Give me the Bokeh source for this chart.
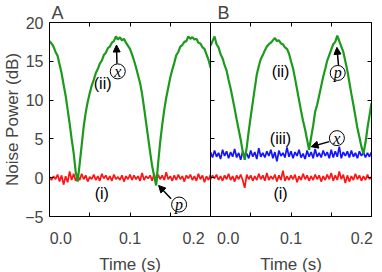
from bokeh.plotting import figure
from bokeh.layouts import row
from bokeh.models import Range1d, FixedTicker, LinearAxis, Title, Arrow, NormalHead
from bokeh.embed import file_html
from bokeh.resources import INLINE
from bokeh.core.properties import value

# ---------------- data ----------------
TIME_S = [
    0.0000, 0.0025, 0.0050, 0.0075, 0.0100, 0.0125, 0.0150, 0.0175, 0.0200, 0.0225,
    0.0250, 0.0275, 0.0300, 0.0325, 0.0350, 0.0375, 0.0400, 0.0425, 0.0450, 0.0475,
    0.0500, 0.0525, 0.0550, 0.0575, 0.0600, 0.0625, 0.0650, 0.0675, 0.0700, 0.0725,
    0.0750, 0.0775, 0.0800, 0.0825, 0.0850, 0.0875, 0.0900, 0.0925, 0.0950, 0.0975,
    0.1000, 0.1025, 0.1050, 0.1075, 0.1100, 0.1125, 0.1150, 0.1175, 0.1200, 0.1225,
    0.1250, 0.1275, 0.1300, 0.1325, 0.1350, 0.1375, 0.1400, 0.1425, 0.1450, 0.1475,
    0.1500, 0.1525, 0.1550, 0.1575, 0.1600, 0.1625, 0.1650, 0.1675, 0.1700, 0.1725,
    0.1750, 0.1775, 0.1800, 0.1825, 0.1850, 0.1875, 0.1900, 0.1925, 0.1950, 0.1975,
    0.2000,
]

# Panel A
A_SIGNAL_II = [
    17.6, 17.3, 16.9, 16.2, 15.7, 14.6, 13.5, 12.0, 10.6, 8.8,
    7.0, 5.0, 3.2, 0.8, -0.5, 1.8, 4.2, 6.6, 8.4, 9.8,
    10.9, 11.9, 12.6, 13.5, 14.0, 14.7, 15.1, 15.8, 16.1, 16.7,
    16.9, 17.4, 17.6, 18.2, 17.8, 18.1, 17.7, 17.9, 17.4, 17.0,
    16.6, 15.9, 15.1, 14.2, 13.2, 12.2, 10.8, 9.0, 7.1, 5.2,
    3.3, 1.5, 0.2, -1.0, 1.9, 4.6, 6.8, 8.7, 10.3, 11.6,
    12.9, 13.9, 14.8, 15.8, 16.2, 16.9, 17.1, 17.5, 17.6, 18.2,
    17.9, 18.1, 17.8, 17.9, 17.4, 17.3, 16.8, 16.6, 15.9, 15.2,
    14.2,
]
A_VACUUM_I = [
    0.1, -0.3, 0.2, -0.2, 0.4, -0.5, 0.3, -0.9, 0.2, -0.6,
    0.8, -0.3, 0.5, -0.4, 0.2, -0.3, 0.5, -0.2, 0.3, -0.5,
    0.1, -0.2, 0.4, -0.3, 0.2, -0.4, 0.5, -0.1, 0.3, -0.3,
    0.2, -0.4, 0.4, -0.2, 0.1, -0.3, 0.3, -0.5, 0.2, -0.2,
    0.4, -0.3, 0.3, -0.2, 0.2, -0.4, 0.6, -0.3, 0.2, -0.1,
    0.3, -0.4, 0.5, -0.6, 0.4, -0.2, 0.3, -0.3, 0.7, -0.2,
    0.2, -0.4, 0.3, -0.3, 0.4, -0.2, 0.2, -0.5, 0.3, -0.1,
    0.4, -0.3, 0.2, -0.4, 0.5, -0.2, 0.3, -0.6, 0.2, -0.3,
    0.4,
]

# Panel B
B_SIGNAL_II = [
    17.0, 17.6, 18.2, 17.2, 16.8, 15.9, 15.4, 14.5, 13.8, 12.6,
    11.5, 10.2, 8.9, 7.5, 6.2, 4.9, 3.4, 2.3, 3.9, 6.0,
    7.9, 9.7, 11.5, 13.3, 14.4, 15.3, 15.8, 16.4, 16.9, 17.2,
    17.4, 17.7, 18.0, 17.6, 17.7, 17.3, 17.2, 16.8, 16.6, 16.0,
    15.0, 14.1, 12.8, 11.4, 10.0, 8.6, 7.3, 6.2, 4.9, 3.6,
    5.2, 6.7, 8.5, 9.4, 10.6, 11.8, 13.0, 14.0, 15.1, 15.8,
    16.5, 17.2, 17.5, 18.3, 17.6, 16.9, 16.2, 15.0, 13.8, 12.3,
    10.8, 9.4, 7.9, 6.4, 5.2, 4.0, 3.1, 4.5, 6.4, 8.0,
    9.6,
]
B_VACUUM_I = [
    -0.2, 0.3, -0.1, 0.4, -0.3, 0.2, -0.4, 0.3, -0.2, 0.5,
    -0.3, 0.2, -0.5, 0.3, -0.2, 0.4, -0.3, -1.3, 0.4, -0.2,
    0.3, -0.4, 0.2, -0.3, 0.5, -0.2, 0.3, -0.4, 0.6, -0.3,
    0.2, -0.2, 0.4, -0.5, 0.3, -0.3, 0.9, -0.4, 0.2, -0.3,
    0.3, -0.2, 0.4, -0.6, 0.2, -0.3, 0.5, -0.2, 0.3, -0.4,
    0.2, -0.3, 0.4, -0.2, 0.3, -0.5, 0.2, -0.3, 0.4, -0.2,
    0.6, -0.4, 0.3, -0.3, 0.8, -0.2, 0.4, -0.7, 0.3, -0.5,
    0.2, -0.3, 0.5, -0.2, 0.3, -0.4, 0.2, -0.3, 0.4, -0.2,
    0.1,
]
B_NOISE_III = [
    3.3, 2.6, 3.5, 2.7, 3.2, 2.4, 3.6, 2.8, 3.4, 2.5,
    3.3, 2.7, 3.7, 2.6, 3.2, 2.3, 3.4, 2.8, 3.1, 2.5,
    3.5, 2.7, 3.3, 2.4, 3.8, 2.7, 3.2, 2.6, 3.4, 2.8,
    3.6, 2.5, 3.3, 2.1, 3.5, 2.8, 3.2, 2.6, 3.9, 2.7,
    3.4, 2.5, 3.3, 2.8, 3.6, 2.6, 3.1, 2.4, 3.5, 2.7,
    3.3, 2.5, 3.7, 2.7, 3.2, 2.6, 3.5, 2.8, 3.3, 2.5,
    3.6, 2.6, 3.4, 2.7, 4.0, 2.5, 3.3, 2.8, 3.4, 2.6,
    3.5, 2.7, 3.2, 2.5, 3.4, 2.8, 3.3, 2.6, 3.2, 2.7,
    3.3,
]

# ticks and tick labels
X_TICKS = [0.0, 0.05, 0.1, 0.15, 0.2]
Y_TICKS = [-5, 0, 5, 10, 15, 20]
X_TICK_LABELS = ["0.0", "0.1", "0.2"]
A_X_LABEL_AT = [0.014, 0.1, 0.179]
B_X_LABEL_AT = [0.022, 0.1, 0.188]

# annotations
A_TEXT = ["(ii)", "(i)"]
A_TEXT_X = [0.066, 0.065]
A_TEXT_Y = [12.2, -2.05]
A_MARK = ["x", "p"]
A_MARK_X = [0.0848, 0.161]
A_MARK_Y = [13.7, -3.46]
A_ARROWS = [(0.0838, 14.7, 0.0832, 17.1), (0.151, -2.7, 0.1355, -1.0)]

B_TEXT = ["(ii)", "(iii)", "(i)"]
B_TEXT_X = [0.087, 0.087, 0.087]
B_TEXT_Y = [13.7, 5.0, -2.1]
B_MARK = ["x", "p"]
B_MARK_X = [0.157, 0.158]
B_MARK_Y = [5.1, 13.5]
B_ARROWS = [(0.1475, 4.65, 0.125, 4.0), (0.159, 14.5, 0.157, 16.8)]

GREEN = "#1c9a1c"
RED = "#ff1414"
BLUE = "#1414ff"
SANS = "Liberation Sans"


def hidden_axis(ticks):
    ax = LinearAxis(ticker=FixedTicker(ticks=ticks, minor_ticks=[]))
    ax.major_tick_in = 4
    ax.major_tick_out = 0
    ax.minor_tick_in = 0
    ax.minor_tick_out = 0
    ax.major_label_standoff = 0
    ax.major_label_text_font_size = "1px"
    ax.major_label_text_color = None
    ax.axis_line_color = "black"
    return ax


def make_panel(border_left, border_right, label_at, letter, letter_offset, show_y_labels):
    p = figure(frame_width=161, frame_height=194, output_backend="svg",
               toolbar_location=None,
               x_range=Range1d(0, 0.2), y_range=Range1d(-5, 20),
               min_border_left=border_left, min_border_right=border_right,
               min_border_top=21, min_border_bottom=40)
    p.background_fill_color = "white"
    p.border_fill_color = "white"
    p.outline_line_color = None
    p.xgrid.visible = False
    p.ygrid.visible = False

    xa = p.xaxis[0]
    xa.ticker = FixedTicker(ticks=label_at, minor_ticks=X_TICKS)
    xa.major_label_overrides = {t: s for t, s in zip(label_at, X_TICK_LABELS)}
    xa.major_tick_in = 0
    xa.major_tick_out = 0
    xa.minor_tick_in = 4
    xa.minor_tick_out = 0
    xa.major_label_standoff = 15
    xa.major_label_text_font = SANS
    xa.major_label_text_font_size = "16px"
    xa.axis_label = "Time (s)"
    xa.axis_label_text_font = SANS
    xa.axis_label_text_font_size = "17px"
    xa.axis_label_text_font_style = "normal"
    xa.axis_label_standoff = 8

    ya = p.yaxis[0]
    ya.ticker = FixedTicker(ticks=Y_TICKS, minor_ticks=[])
    ya.major_tick_in = 4
    ya.major_tick_out = 0
    ya.minor_tick_in = 0
    ya.minor_tick_out = 0
    if show_y_labels:
        ya.major_label_standoff = 6
        ya.major_label_text_font = SANS
        ya.major_label_text_font_size = "16px"
        ya.axis_label = "Noise Power (dB)"
        ya.axis_label_text_font = SANS
        ya.axis_label_text_font_size = "17px"
        ya.axis_label_text_font_style = "normal"
        ya.axis_label_standoff = 0
    else:
        ya.major_label_standoff = 0
        ya.major_label_text_font_size = "1px"
        ya.major_label_text_color = None

    p.add_layout(hidden_axis([0.05, 0.1, 0.15]), "above")
    p.add_layout(Title(text=letter, align="left", offset=letter_offset, standoff=0,
                       text_font=SANS, text_font_size="18px",
                       text_font_style="normal"), "above")
    return p


pa = make_panel(43, 0, A_X_LABEL_AT, "A", 2, True)
pb = make_panel(0, 9, B_X_LABEL_AT, "B", 7, False)
pb.add_layout(hidden_axis(Y_TICKS), "right")

# Panel A traces
pa.line(TIME_S, A_VACUUM_I, line_color=RED, line_width=1.7)
pa.line(TIME_S, A_SIGNAL_II, line_color=GREEN, line_width=2.2)
# Panel B traces
pb.line(TIME_S, B_VACUUM_I, line_color=RED, line_width=1.7)
pb.line(TIME_S, B_NOISE_III, line_color=BLUE, line_width=1.7)
pb.line(TIME_S, B_SIGNAL_II, line_color=GREEN, line_width=2.2)


def annotate(p, tx, ty, texts, mx, my, marks, arrows):
    p.text(tx, ty, text=texts, text_font=value(SANS), text_font_size="16px",
           text_align="center", text_baseline="middle", text_color="black")
    for x0, y0, x1, y1 in arrows:
        p.add_layout(Arrow(x_start=x0, y_start=y0, x_end=x1, y_end=y1,
                           line_width=1.5, line_color="black",
                           end=NormalHead(size=7, fill_color="black", line_color="black")))
    p.scatter(mx, my, marker="circle", size=15, fill_color="white",
              line_color="black", line_width=1)
    p.text(mx, my, text=marks, text_font=value("Liberation Serif"),
           text_font_style="italic", text_font_size="16px",
           text_align="center", text_baseline="middle", text_color="black")


annotate(pa, A_TEXT_X, A_TEXT_Y, A_TEXT, A_MARK_X, A_MARK_Y, A_MARK, A_ARROWS)
annotate(pb, B_TEXT_X, B_TEXT_Y, B_TEXT, B_MARK_X, B_MARK_Y, B_MARK, B_ARROWS)

layout = row(pa, pb, spacing=0)
open("out.html", "w").write(file_html(layout, INLINE))
